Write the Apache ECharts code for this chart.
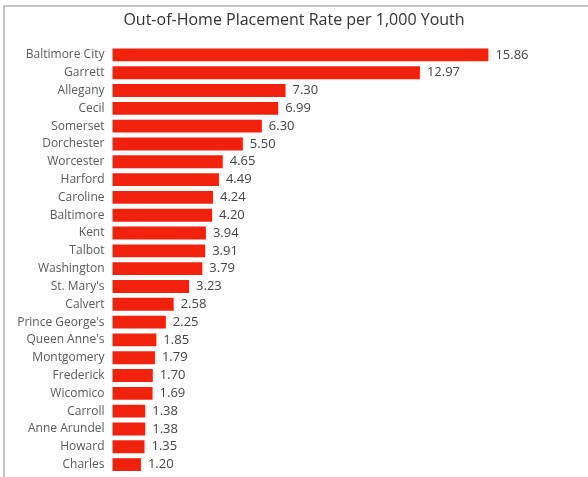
<!DOCTYPE html>
<html>
<head>
<meta charset="utf-8">
<script src="https://cdn.jsdelivr.net/npm/echarts@6/dist/echarts.min.js"></script>
<style>
html,body{margin:0;padding:0;background:#fff;}
#wrap{position:relative;width:588px;height:477px;overflow:hidden;}
#frame{position:absolute;left:3px;top:5px;width:600px;height:500px;border-left:2px solid #c4c4c4;border-top:2px solid #c4c4c4;box-sizing:border-box;pointer-events:none;}
#chart{position:absolute;left:0;top:0;width:588px;height:477px;}
</style>
</head>
<body>
<div id="wrap">
<div id="chart"></div>
<div id="frame"></div>
</div>
<script>
const titleText = "Out-of-Home Placement Rate per 1,000 Youth";
const categories = ["Baltimore City","Garrett","Allegany","Cecil","Somerset","Dorchester","Worcester","Harford","Caroline","Baltimore","Kent","Talbot","Washington","St. Mary's","Calvert","Prince George's","Queen Anne's","Montgomery","Frederick","Wicomico","Carroll","Anne Arundel","Howard","Charles"];
const values = [15.86,12.97,7.30,6.99,6.30,5.50,4.65,4.49,4.24,4.20,3.94,3.91,3.79,3.23,2.58,2.25,1.85,1.79,1.70,1.69,1.38,1.38,1.35,1.20];

const chart = echarts.init(document.getElementById('chart'), null, {renderer:'canvas'});
chart.setOption({
  animation:false,
  backgroundColor:'#ffffff',
  title:{
    text:titleText,
    left:'center',
    top:7,
    textStyle:{fontFamily:'Open Sans',fontSize:16,fontWeight:'normal',color:'#333333'}
  },
  grid:{left:112.5,right:1.5,top:46,bottom:3.5,containLabel:false},
  xAxis:{type:'value',min:0,max:20,show:false},
  yAxis:{
    type:'category',
    data:categories,
    inverse:true,
    axisLine:{show:false},
    axisTick:{show:false},
    splitLine:{show:false},
    axisLabel:{fontFamily:'Open Sans',fontSize:12,color:'#5a5a5a',margin:8}
  },
  series:[{
    type:'bar',
    data:values,
    barCategoryGap:'28%',
    itemStyle:{color:'#F0220E'},
    label:{
      show:true,
      position:'right',
      distance:7,
      fontFamily:'Open Sans',
      fontSize:13,
      color:'#444444',
      formatter:p=>p.value.toFixed(2)
    }
  }]
});
</script>
</body>
</html>
